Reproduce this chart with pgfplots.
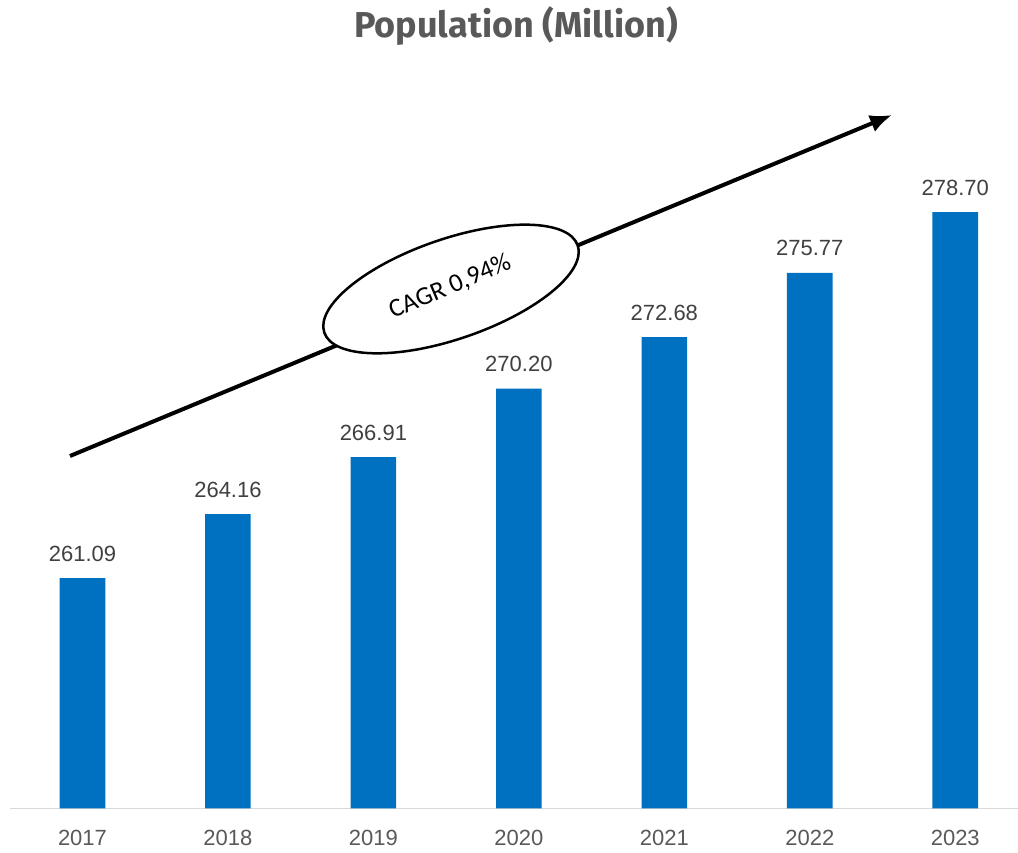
\documentclass[border=0pt]{standalone}
\usepackage{fontspec}
\setmainfont{Liberation Sans}
\newfontfamily\titlefont{Fira Sans}
\newfontfamily\cagrfont{Carlito}
\usepackage{pgfplots}
\pgfplotsset{compat=1.18}
\usetikzlibrary{arrows.meta}
\definecolor{barblue}{HTML}{0070C0}
\definecolor{labgray}{HTML}{404040}
\definecolor{tickgray}{HTML}{595959}
\definecolor{axgray}{HTML}{D9D9D9}
\begin{document}
\begin{tikzpicture}
\useasboundingbox (0,0) rectangle (1018pt,852pt);
\begin{axis}[
  at={(9.75pt,43.5pt)}, anchor=south west,
  scale only axis, width=1018.25pt, height=706.6pt,
  xmin=-0.5, xmax=6.5, ymin=250, ymax=284,
  ybar, bar width=45.6pt,
  axis x line*=bottom, axis y line=none,
  x axis line style={draw=axgray, line width=1.5pt},
  ytick=\empty, xtick=data,
  xticklabels={2017,2018,2019,2020,2021,2022,2023},
  major tick length=0pt,
  xticklabel style={font=\fontsize{22}{26}\selectfont, text=tickgray, anchor=base, yshift=-37pt, inner sep=0pt},
  nodes near coords={\pgfmathprintnumber[fixed,fixed zerofill,precision=2,assume math mode=true]{\pgfplotspointmeta}},
  nodes near coords style={font=\fontsize{22}{26}\selectfont, text=labgray, anchor=base, yshift=17pt, inner sep=0pt},
]
\addplot[fill=barblue, draw=none] coordinates {(0,261.09) (1,264.16) (2,266.91) (3,270.20) (4,272.68) (5,275.77) (6,278.70)};
\end{axis}
\draw[line width=4pt, -{Latex[length=22pt,width=18pt]}] (70pt,396pt) -- (892pt,737pt);
\draw[line width=2.5pt, fill=white, rotate around={19:(451pt,563pt)}] (451pt,563pt) ellipse (134pt and 50pt);
\node[rotate=23, inner sep=0pt, font=\cagrfont\fontsize{26}{30}\selectfont] at (450pt,565pt) {CAGR 0,94\%};
\node[anchor=base, font=\titlefont\bfseries\fontsize{36}{40}\selectfont, text=tickgray] at (516pt,814pt) {Population (Million)};
\end{tikzpicture}
\end{document}
